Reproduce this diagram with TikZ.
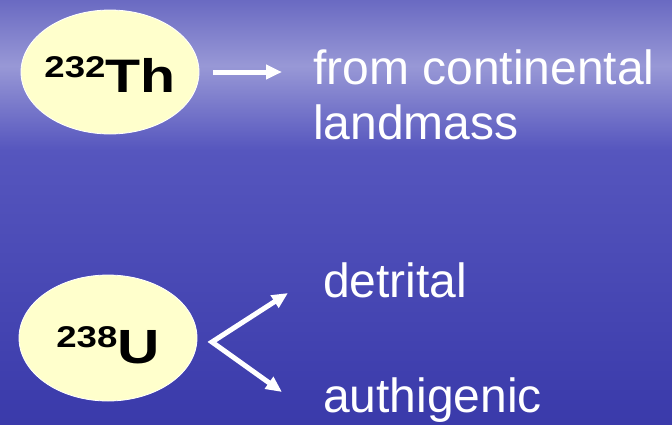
\documentclass[tikz,border=0pt]{standalone}
\usepackage{fontspec}
\setmainfont{Liberation Sans}
\newfontfamily\isofont[FakeStretch=1.22]{Liberation Sans}
\usetikzlibrary{shapes.geometric,arrows.meta}

\definecolor{seatop}{RGB}{106,106,194}
\definecolor{seaband}{RGB}{152,152,214}
\definecolor{seamid}{RGB}{86,86,190}
\definecolor{seabot}{RGB}{58,58,170}
\definecolor{isofill}{RGB}{255,255,204}

\begin{document}
\begin{tikzpicture}[x=1pt,y=-1pt,
	iso/.style={ellipse, fill=isofill, draw=white, line width=0.8pt,
		minimum width=178pt, minimum height=124pt, inner sep=0pt,
		text depth=0pt, font=\isofont\bfseries},
	note/.style={text=white, inner sep=0pt, align=left,
		font=\fontsize{48}{55}\selectfont},
	arr/.style={white, line width=5pt, line join=miter,
		>={Triangle[length=16pt,width=14pt]}}]

	\useasboundingbox (0,0) rectangle (672,424);

	% sea background, lighter band near the top
	\shade[top color=seatop, bottom color=seaband] (0,0) rectangle (672,66);
	\shade[top color=seaband, bottom color=seamid] (0,66) rectangle (672,150);
	\shade[top color=seamid, bottom color=seabot] (0,150) rectangle (672,424);

	% isotopes
	\node[iso, text height=40pt] (th) at (110,72) {\makebox[0pt]{%
		\raisebox{15pt}{\fontsize{30}{30}\selectfont 232}%
		\fontsize{47}{47}\selectfont Th}};
	\node[iso, minimum height=126pt, text height=50pt] (u) at (108,338) {\makebox[0pt]{%
		\raisebox{16pt}{\fontsize{30}{30}\selectfont 238}%
		\fontsize{48}{48}\selectfont U}};

	% sources
	\node[note, anchor=north west] (from) at (313,50) {from continental\\landmass};
	\node[note, anchor=base west] (det) at (323,297) {detrital};
	\node[note, anchor=base west] (auth) at (323,412) {authigenic};

	\coordinate (thTip) at (282,72);
	\coordinate (fork) at (212,342);
	\coordinate (detTip) at (288,293);
	\coordinate (authTip) at (282,392);

	\draw[arr, ->] ([xshift=14pt]th.east) -- (thTip);
	\draw[arr, <->] (detTip) -- (fork) -- (authTip);

\end{tikzpicture}
\end{document}
